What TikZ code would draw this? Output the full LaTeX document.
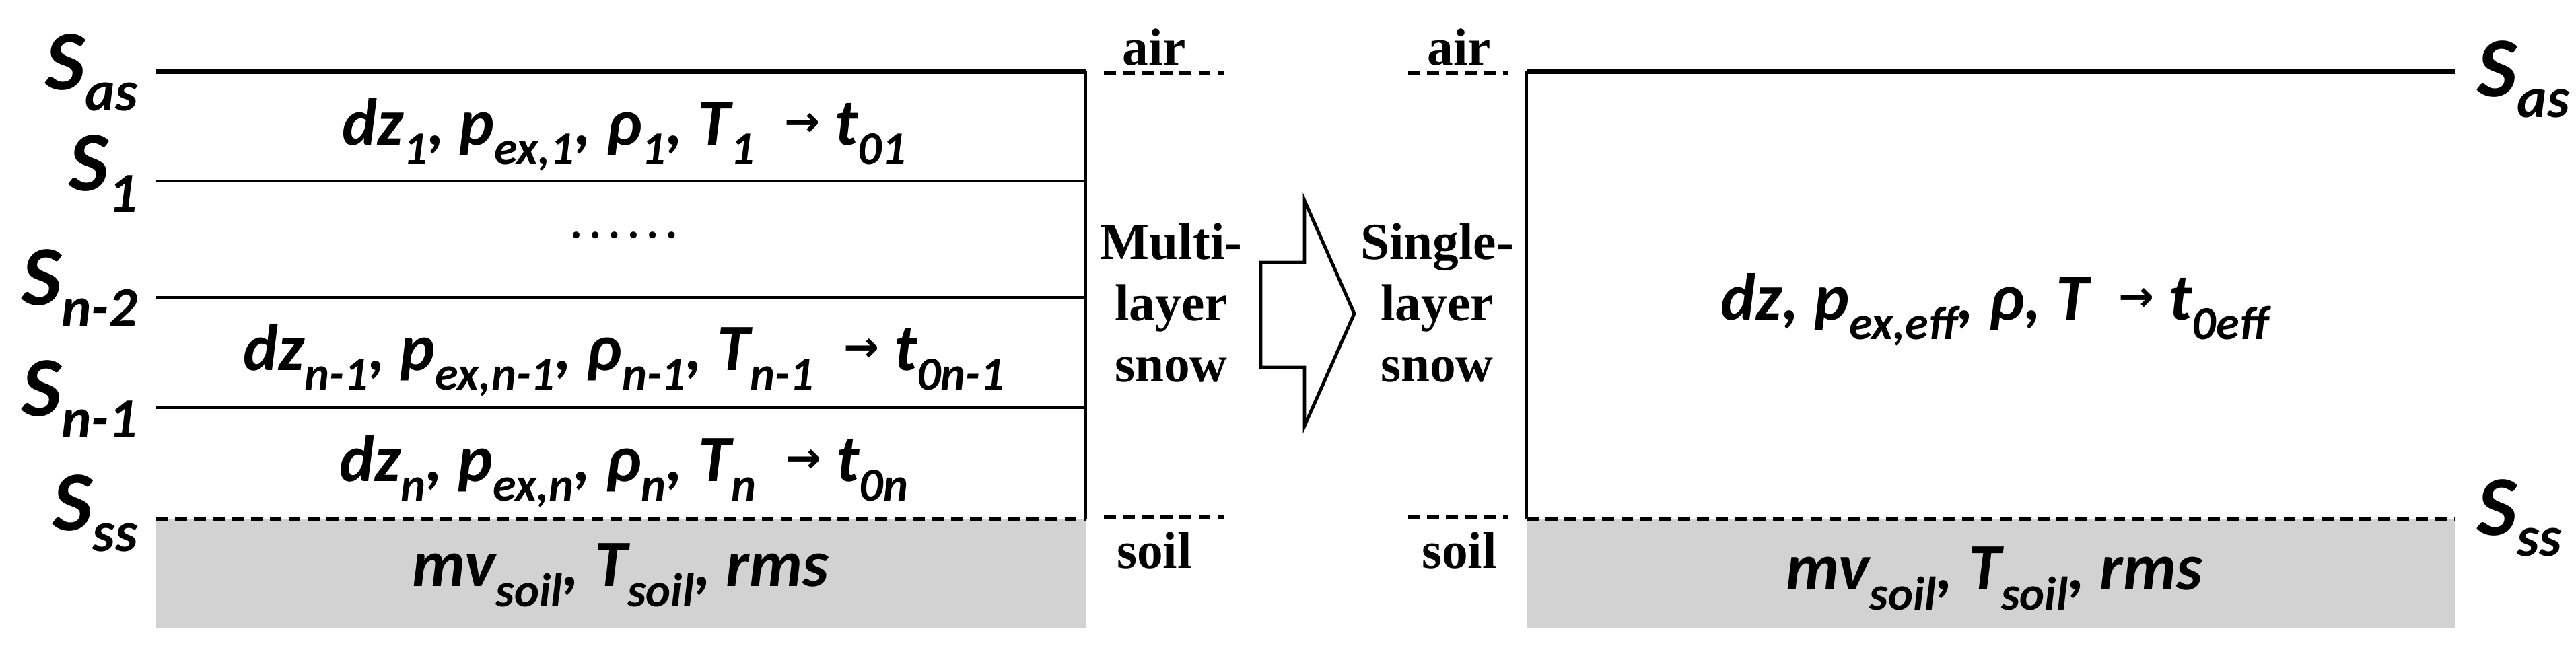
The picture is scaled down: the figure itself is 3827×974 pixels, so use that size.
\documentclass[tikz,border=0pt]{standalone}
\usepackage{fontspec}
\setmainfont{Liberation Serif}
\newfontfamily\fsans{Carlito}
\newfontfamily\dv{DejaVu Sans}
\newcommand\lsub[1]{\raisebox{-0.3em}{\fontsize{20}{20}\selectfont #1}}
\newcommand\ssub[1]{\raisebox{-0.25em}{\fontsize{24}{24}\selectfont #1}}
\newcommand\arr{{\dv\fontsize{18}{18}\selectfont\ \raisebox{0.2em}{→}\ }}
\tikzset{
  formula/.style={font=\fsans\bfseries\itshape\fontsize{28}{32}\selectfont, inner sep=0pt},
  slabel/.style={font=\fsans\bfseries\itshape\fontsize{36}{38}\selectfont, inner sep=0pt},
  serif/.style={font=\bfseries\fontsize{22}{26}\selectfont, align=center, inner sep=0pt},
  thin/.style={line width=1.4pt},
  thickl/.style={line width=2.5pt},
  dsh/.style={line width=1.6pt, dash pattern=on 5pt off 3pt},
}
\begin{document}
\begin{tikzpicture}[x=0.1mm,y=-0.1mm]
\useasboundingbox (0,0) rectangle (3827,974);
% left panel
\fill[gray!35] (232,771) rectangle (1613,933);
\draw[thickl] (232,106) -- (1613,106);
\draw[thin] (232,269) -- (1613,269);
\draw[thin] (232,442) -- (1613,442);
\draw[thin] (232,606) -- (1613,606);
\draw[thin] (1613,106) -- (1613,771);
\draw[dsh] (232,771) -- (1613,771);
\draw[dsh] (1640,108) -- (1818,108);
\draw[dsh] (1640,768) -- (1818,768);
\node[serif] (airL) at (1715,70) {air};
\node[serif] (soilL) at (1715,818) {soil};
\node[serif] (multi) at (1740,450) {Multi-\\layer\\snow};
\node[slabel,anchor=east] (s1) at (205,108) {S\ssub{as}};
\node[slabel,anchor=east] (s2) at (205,258) {S\ssub{1}};
\node[slabel,anchor=east] (s3) at (205,428) {S\ssub{n-2}};
\node[slabel,anchor=east] (s4) at (205,593) {S\ssub{n-1}};
\node[slabel,anchor=east] (s5) at (205,763) {S\ssub{ss}};
\node[formula] (r1) at (927,200) {dz\lsub{1}, p\lsub{ex,1}, ρ\lsub{1}, T\lsub{1} \arr t\lsub{01}};
\node[formula] (dots) at (927,350) {\rmfamily\upshape\mdseries\fontsize{24}{24}\selectfont ……};
\node[formula] (r2) at (927,535) {dz\lsub{n-1}, p\lsub{ex,n-1}, ρ\lsub{n-1}, T\lsub{n-1} \arr t\lsub{0n-1}};
\node[formula] (r3) at (927,700) {dz\lsub{n}, p\lsub{ex,n}, ρ\lsub{n}, T\lsub{n} \arr t\lsub{0n}};
\node[formula] (soilvarsL) at (922,855) {mv\lsub{soil}, T\lsub{soil}, rms};
% arrow
\draw[thin, line join=miter] (1873,390) -- (1938,390) -- (1938,298) -- (2012,466) -- (1938,633) -- (1938,546) -- (1873,546) -- cycle;
% right panel
\fill[gray!35] (2268,771) rectangle (3647,933);
\draw[thickl] (2268,106) -- (3647,106);
\draw[thin] (2268,106) -- (2268,771);
\draw[dsh] (2268,771) -- (3647,771);
\draw[dsh] (2092,108) -- (2240,108);
\draw[dsh] (2092,768) -- (2240,768);
\node[serif] (airR) at (2168,70) {air};
\node[serif] (soilR) at (2168,818) {soil};
\node[serif] (single) at (2135,450) {Single-\\layer\\snow};
\node[slabel,anchor=west] (s6) at (3680,118) {S\ssub{as}};
\node[slabel,anchor=west] (s7) at (3680,770) {S\ssub{ss}};
\node[formula] (rr) at (2963,460) {dz, p\lsub{ex,eff}, ρ, T \arr t\lsub{0eff}};
\node[formula] (soilvarsR) at (2963,860) {mv\lsub{soil}, T\lsub{soil}, rms};
\end{tikzpicture}
\end{document}
